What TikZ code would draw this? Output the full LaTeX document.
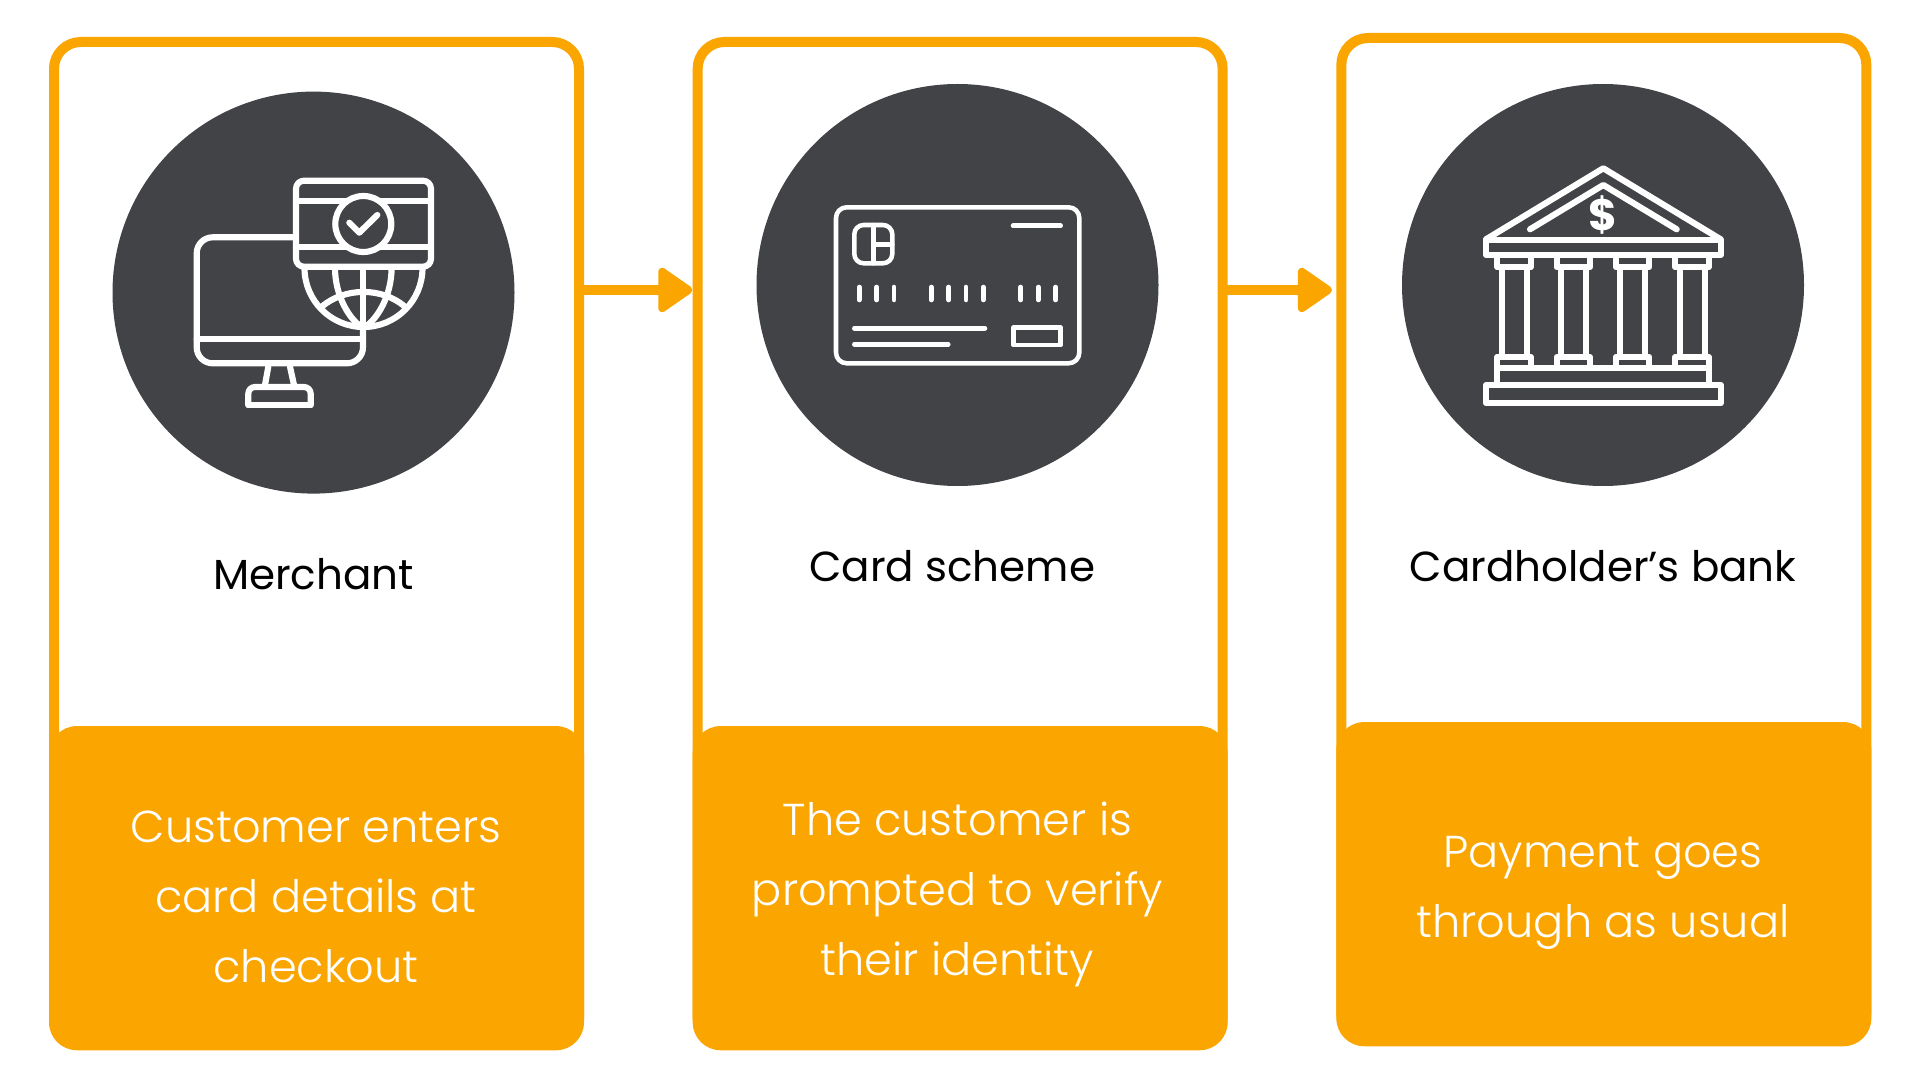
\documentclass[tikz,border=0pt]{standalone}
\usepackage{fontspec}
\setmainfont{Poppins}
\newfontfamily\lightfont{Poppins Light}
\usetikzlibrary{arrows.meta, positioning, calc}
\definecolor{brandorange}{HTML}{FAA500}
\definecolor{icondark}{HTML}{414347}

\begin{document}
\begin{tikzpicture}[
    x=0.75pt, y=-0.75pt,
    frame/.style={rectangle, draw=brandorange, line width=7.5pt, rounded corners=20pt, minimum width=393.75pt, minimum height=751.5pt, outer sep=0pt},
    banner/.style={rectangle, fill=brandorange, rounded corners=21pt, minimum width=401.25pt, minimum height=243.15pt, outer sep=0pt},
    dot/.style={circle, fill=icondark, minimum size=301.5pt, inner sep=0pt},
    title/.style={font=\fontsize{31.5}{36}\selectfont, text=black, inner sep=0pt},
    caption/.style={font=\lightfont\fontsize{33.5}{52.5}\selectfont, text=white, align=center, inner sep=0pt},
    icon/.style={draw=white, line width=4.6pt, line cap=round, line join=round},
    thinicon/.style={draw=white, line width=3.4pt, line cap=round, line join=round},
    arrow/.style={-{Triangle[round, length=28pt, width=37pt, line width=6pt]}, draw=brandorange, line width=7.5pt}
]
    \useasboundingbox[fill=white] (0,0) rectangle (1920,1080);

    % Frames
    \node[frame] (merchant) at (316.5,543) {};
    \node[frame, right=89pt of merchant] (scheme) {};
    \node[frame, right=89pt of scheme, yshift=3pt] (bank) {};

    % Banners
    \node[banner, above=-4.7pt of merchant.south] (merchantbanner) {};
    \node[banner, above=-4.7pt of scheme.south] (schemebanner) {};
    \node[banner, above=-4.7pt of bank.south] (bankbanner) {};

    % Circles
    \node[dot] (merchantdot) at (313.5,292.6) {};
    \node[dot] (schemedot) at (957.5,285) {};
    \node[dot] (bankdot) at (1603,285) {};

    % Titles
    \node[title, below=48pt of merchantdot] (merchanttitle) {Merchant};
    \node[title, below=48pt of schemedot, xshift=-4pt] (schemetitle) {Card scheme};
    \node[title, below=48pt of bankdot] (banktitle) {Cardholder’s bank};

    % Captions
    \node[caption] (merchantcaption) at (316,897) {Customer enters\\card details at\\checkout};
    \node[caption] (schemecaption) at (957.5,894.5) {The customer is\\prompted to verify\\their identity};
    \node[caption] (bankcaption) at (1603,892.5) {Payment goes\\through as usual};

    % Arrows
    \coordinate (flow) at (0,290);
    \draw[arrow] (merchant.east |- flow) -- ($(scheme.west |- flow)+(-4pt,0)$);
    \draw[arrow] (scheme.east |- flow) -- ($(bank.west |- flow)+(-7pt,0)$);

    % Merchant icon
    \draw[icon] (321.7,306.7) .. controls (345,287) and (382,287) .. (405,306.7);
    \draw[icon] (304.5,268) arc[start angle=180, end angle=0, radius=44.25pt, y radius=-44.25pt];
    \draw[icon] (335,268) .. controls (335,295) and (349,320) .. (363.3,328);
    \draw[icon] (391.6,268) .. controls (391.6,295) and (377.6,320) .. (363.3,328);
    \draw[icon] (363.3,262) -- (363.3,328);
    \draw[icon, rounded corners=12pt] (296,237.3) -| (196.7,363.3) -| (363,330);
    \draw[icon] (196.7,339) -- (363,339);
    \draw[icon] (268.3,366.7) -- (265,385);
    \draw[icon] (290,366.7) -- (294,385);
    \draw[icon, rounded corners=5pt] (248.3,405) -- (248.3,387) -- (310.7,387) -- (310.7,405);
    \draw[icon] (248.3,405) -- (310.7,405);
    \draw[icon, rounded corners=6pt, fill=icondark] (296,180.7) rectangle (431,266.7);
    \draw[icon] (296,200.7) -- (431,200.7);
    \draw[icon] (296,247.3) -- (431,247.3);
    \draw[icon, fill=icondark] (363.3,224) circle[radius=21pt];
    \draw[icon] (349.3,222.7) -- (359.3,232.7) -- (377.3,215);

    % Scheme icon
    \draw[thinicon, rounded corners=8pt] (836,207.3) rectangle (1079.3,363.3);
    \draw[thinicon, rounded corners=7pt] (854.3,225) rectangle (892.3,263.3);
    \draw[thinicon] (873.3,225) -- (873.3,263.3);
    \draw[thinicon] (873.3,244.3) -- (892.3,244.3);
    \draw[thinicon] (1013,225.7) -- (1060.7,225.7);
    \foreach \tickx in {859.3,876.7,894,931.3,948.7,966,983.3,1020.7,1038.3,1055.7}
        \draw[thinicon] (\tickx,287) -- (\tickx,300);
    \draw[thinicon] (854.3,328.3) -- (985,328.3);
    \draw[thinicon] (854.3,344.3) -- (948.3,344.3);
    \draw[thinicon] (1013.3,327.7) rectangle (1060.7,345);

    % Bank icon
    \draw[icon] (1486,239.3) -- (1603.3,168.3) -- (1720.7,239.3);
    \draw[icon] (1530,229.3) -- (1603.3,185) -- (1676.7,229.3);
    \node[font=\bfseries\fontsize{33}{33}\selectfont, text=white, inner sep=0pt] (dollar) at (1603.3,215) {\$};
    \draw[icon] (1486,240) rectangle (1720.7,255);
    \foreach \colx in {0,59.3,118.6,177.9} {
        \draw[icon] (1497.3+\colx,256) |- (1530.7+\colx,267.3) -- (1530.7+\colx,256);
        \draw[icon] (1501.7+\colx,267.3) -- (1501.7+\colx,357);
        \draw[icon] (1526.7+\colx,267.3) -- (1526.7+\colx,357);
        \draw[icon] (1497.3+\colx,368) |- (1530.7+\colx,357) -- (1530.7+\colx,368);
    }
    \draw[icon] (1497.3,385) |- (1709.3,368.3) -- (1709.3,385);
    \draw[icon] (1486,385) rectangle (1720.7,403.3);
\end{tikzpicture}
\end{document}
